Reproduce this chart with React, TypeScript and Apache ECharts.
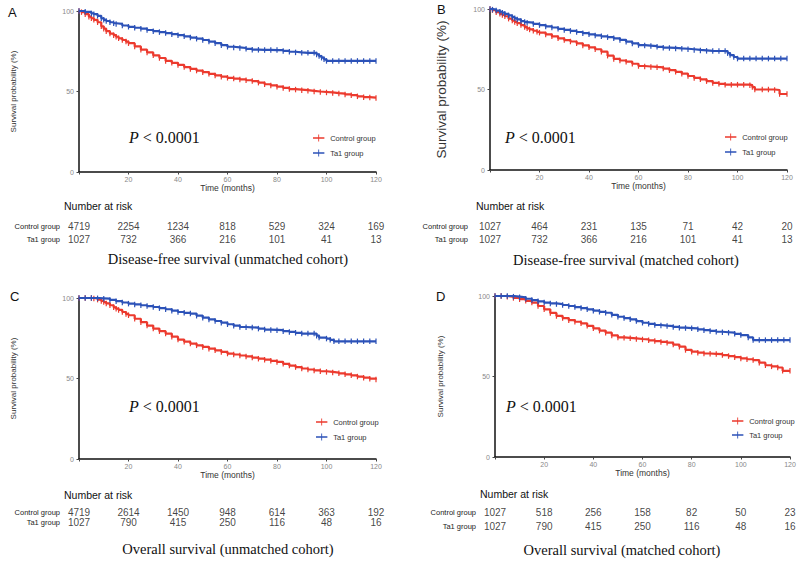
import React, { useEffect, useRef } from 'react';
import * as echarts from 'echarts';

const RED = '#ec3a2e';
const BLUE = '#2c52b8';

// Kaplan-Meier curves: [month, survival %]
const dfsUnmatchedControl = [[0,100],[1,99.3],[2.5,98],[4,96.5],[5,95.5],[6,94.5],[7.5,93],[9,90.5],[10,89],[11,87.5],[12.5,86],[14,85],[15,84],[16,83],[17.5,82],[19,81],[20,80],[22.5,78],[25,76],[27.5,74.3],[30,72.5],[32.5,70.8],[35,69],[37.5,67.8],[40,66.5],[42.5,65.2],[45,64],[47.5,63],[50,62],[52.5,61],[55,60],[57.5,59.2],[60,58.5],[62.5,58],[65,57.5],[67.5,57],[70,56.5],[72.5,55.5],[75,54.5],[77.5,53.8],[80,53],[82.5,52.2],[85,51.5],[87.5,51.2],[90,50.8],[92.5,50.4],[95,50],[97.5,49.7],[100,49.4],[102.5,49],[105,48.7],[107.5,48.2],[110,47.7],[112.5,47],[115,46.5],[117.5,46.2],[120,46]];
const dfsUnmatchedTa1 = [[0,100],[2.5,99.5],[5,98.5],[6,98],[7.5,97],[9,95.5],[10,94.5],[11,93.8],[12.5,93],[14,92.4],[15,92],[17.5,91],[20,90.2],[22.5,89.6],[25,89],[27.5,88.2],[30,87.5],[32.5,86.9],[35,86.3],[37.5,85.6],[40,85],[42.5,84.3],[45,83.5],[47.5,82.8],[50,82],[52.5,81],[55,80],[57.5,78.8],[60,77.8],[62.5,77.4],[65,77],[67.5,76.5],[70,76],[72.5,75.9],[75,75.8],[77.5,75.7],[80,75.7],[82.5,75.2],[85,74.7],[87.5,74.3],[90,74],[92.5,74],[95,74],[96,73],[97,72],[98,71],[99,70],[100,69],[102.5,69],[105,69],[107.5,69],[110,69],[112.5,69],[115,69],[117.5,69],[120,69]];
const dfsMatchedControl = [[0,100],[1,99.3],[2.5,98],[4,97],[5,96.3],[6,95.5],[7.5,94],[9,92.8],[10,92],[11,91.2],[12.5,90],[14,88.8],[15,88],[16,87.3],[17.5,86.5],[19,85.8],[20,85.3],[22.5,84.2],[25,83],[27.5,81.8],[30,80.7],[32.5,79.8],[35,78.7],[37.5,77.4],[40,76.2],[42.5,75],[45,73.5],[47.5,71],[50,69],[52.5,68],[55,67.3],[57.5,66],[60,64.6],[62.5,64.3],[65,64],[67.5,63.8],[70,63],[72.5,62],[75,61],[77.5,59.8],[80,58.4],[82.5,57.2],[85,56.3],[87.5,55.2],[90,54.1],[92.5,53.5],[95,53],[97.5,53],[100,53],[102.5,53],[105,52.7],[106,51.5],[107,50],[110,50],[112.5,50],[115,49.7],[117,47.2],[120,47.2]];
const dfsMatchedTa1 = [[0,100],[1,99.6],[2.5,99],[4,98.3],[5,97.7],[6,97],[7.5,96],[9,94.9],[10,94.2],[11,93.5],[12.5,92.5],[14,91.9],[15,91.5],[17.5,90.7],[20,90],[22.5,89.2],[25,88.5],[27.5,87.7],[30,87],[32.5,86.4],[35,85.7],[37.5,85],[40,84.3],[42.5,83.6],[45,83],[47.5,82.5],[50,81.8],[52.5,80.8],[55,79.7],[57.5,78.6],[60,77.6],[62.5,77.3],[65,77],[67.5,76.5],[70,76],[72.5,75.8],[75,75.5],[77.5,75.3],[80,75],[82.5,74.6],[85,74.3],[87.5,74],[90,73.9],[92.5,73.9],[95,73.9],[96,72.6],[97,71.4],[98.5,70.2],[100,69.2],[102.5,69.2],[105,69.2],[107.5,69.2],[110,69.2],[112.5,69.2],[115,69.2],[117.5,69.2],[120,69.2]];
const osUnmatchedControl = [[0,100],[2.5,100],[5,100],[6,99.7],[7.5,99],[9,98.2],[10,97.5],[11,96.6],[12.5,95.5],[14,94.2],[15,93.4],[16,92.6],[17.5,91.3],[19,90.1],[20,89.3],[22.5,87.1],[25,85],[27.5,82.9],[30,81],[32.5,79.4],[35,77.9],[37.5,76],[40,74.2],[42.5,72.9],[45,71.7],[47.5,70.6],[50,69.6],[52.5,68.5],[55,67.5],[57.5,66.5],[60,65.5],[62.5,64.9],[65,64.3],[67.5,63.7],[70,63],[72.5,62.3],[75,61.7],[77.5,61],[80,60.3],[82.5,59.1],[85,58],[87.5,57.1],[90,56.2],[92.5,55.6],[95,55],[97.5,54.5],[100,54.1],[102.5,53.7],[105,53.2],[107.5,52.6],[110,52],[112.5,51.2],[115,50.5],[117.5,49.9],[120,49.4]];
const osUnmatchedTa1 = [[0,100],[2.5,100],[5,100],[7.5,99.8],[10,99.6],[12.5,98.8],[15,98],[17.5,97.2],[20,96.5],[22.5,96],[25,95.5],[27.5,95],[30,94.4],[32.5,93.7],[35,93],[37.5,92.1],[40,91.3],[42.5,90.8],[45,90.3],[47.5,89],[50,87.8],[52.5,86.7],[55,85.7],[57.5,84.7],[60,83.7],[62.5,82.8],[65,82],[67.5,81.8],[70,81.6],[72.5,81],[75,80.4],[77.5,80.2],[80,80],[82.5,79.4],[85,78.9],[87.5,78.4],[90,77.9],[92.5,77.9],[95,77.9],[96,76.6],[97,75.4],[100,74.8],[101.5,74],[103,73.1],[105,73.1],[107.5,73.1],[110,73.1],[112.5,73.1],[115,73.1],[117.5,73.1],[120,73.1]];
const osMatchedControl = [[0,100],[2.5,100],[5,99.6],[7.5,98.8],[10,98],[12.5,97],[15,95.9],[17.5,93.8],[20,91.7],[22.5,89.5],[25,87.6],[27.5,86.3],[30,85],[32.5,84],[35,83],[37.5,81.5],[40,79.9],[42.5,78.5],[45,77.2],[47.5,75.5],[50,74.3],[52.5,74],[55,73.7],[57.5,73.3],[60,73],[62.5,72.5],[65,72],[67.5,71.5],[70,71],[72.5,69.8],[75,68.5],[77.5,66.5],[80,65.4],[82.5,64.8],[85,64.3],[87.5,64.1],[90,63.9],[92.5,63.3],[95,62.7],[97.5,62],[100,61.2],[102.5,60.7],[105,60.2],[107.5,58.6],[110,57],[112.5,56.3],[115,55.6],[117,53.5],[120,53.5]];
const osMatchedTa1 = [[0,100],[2.5,100],[5,100],[7.5,99.6],[10,99.2],[12.5,98.3],[15,97.5],[17.5,96.7],[20,95.9],[22.5,95.4],[25,95],[27.5,94.4],[30,93.8],[32.5,93.1],[35,92.5],[37.5,91.7],[40,90.9],[42.5,90.2],[45,89.6],[47.5,88.3],[50,87.1],[52.5,86.3],[55,85.5],[57.5,84.4],[60,83.4],[62.5,82.7],[65,82],[67.5,81.6],[70,81.3],[72.5,80.8],[75,80.3],[77.5,80.1],[80,79.9],[82.5,79.3],[85,78.8],[87.5,78.3],[90,77.8],[92.5,77.5],[95,77.2],[97.5,76.5],[100,75.7],[103,74.3],[105,72.6],[107.5,72.6],[110,72.6],[112.5,72.6],[115,72.6],[117.5,72.6],[120,72.6]];

// Number at risk
const riskMonths = [0, 20, 40, 60, 80, 100, 120];
const riskDfsUnmatchedControl = [4719, 2254, 1234, 818, 529, 324, 169];
const riskDfsUnmatchedTa1 = [1027, 732, 366, 216, 101, 41, 13];
const riskDfsMatchedControl = [1027, 464, 231, 135, 71, 42, 20];
const riskDfsMatchedTa1 = [1027, 732, 366, 216, 101, 41, 13];
const riskOsUnmatchedControl = [4719, 2614, 1450, 948, 614, 363, 192];
const riskOsUnmatchedTa1 = [1027, 790, 415, 250, 116, 48, 16];
const riskOsMatchedControl = [1027, 518, 256, 158, 82, 50, 23];
const riskOsMatchedTa1 = [1027, 790, 415, 250, 116, 48, 16];

const xTicks = [0, 20, 40, 60, 80, 100, 120];
const yTicks = [0, 50, 100];
const groupNames = ['Control group', 'Ta1 group'];
const panelLetters = ['A', 'B', 'C', 'D'];
const panelTitles = [
  'Disease-free survival (unmatched cohort)',
  'Disease-free survival (matched cohort)',
  'Overall survival (unmatched cohort)',
  'Overall survival (matched cohort)',
];

const curves = [
  [dfsUnmatchedControl, dfsUnmatchedTa1],
  [dfsMatchedControl, dfsMatchedTa1],
  [osUnmatchedControl, osUnmatchedTa1],
  [osMatchedControl, osMatchedTa1],
];
const risks = [
  [riskDfsUnmatchedControl, riskDfsUnmatchedTa1],
  [riskDfsMatchedControl, riskDfsMatchedTa1],
  [riskOsUnmatchedControl, riskOsUnmatchedTa1],
  [riskOsMatchedControl, riskOsMatchedTa1],
];

// layout
const layout = [
  { grid: { left: 79, top: 11, width: 297, height: 161 }, yName: 8, yGap: 62, risk: { top: 219.5, height: 26 }, riskMargin: 19,
    letter: [8, 12], nar: [64, 206], title: [228, 259], p: [129, 137], legend: [313, 134, 7] },
  { grid: { left: 490, top: 9, width: 297, height: 161 }, yName: 13.5, yGap: 42, risk: { top: 219.5, height: 26 }, riskMargin: 22,
    letter: [437, 9], nar: [476, 206], title: [626, 260], p: [505, 137], legend: [725, 133, 7] },
  { grid: { left: 79, top: 298, width: 297, height: 161 }, yName: 8, yGap: 62, risk: { top: 507, height: 20.5 }, riskMargin: 19,
    letter: [10, 296], nar: [64, 495], title: [228, 549], p: [129, 406], legend: [316, 418, 7] },
  { grid: { left: 495, top: 296, width: 295, height: 161 }, yName: 8, yGap: 51, risk: { top: 505, height: 28 }, riskMargin: 19,
    letter: [436, 296], nar: [480, 494], title: [622, 550], p: [506, 406], legend: [732, 417, 6] },
];

const SANS = 'Liberation Sans, Arial, sans-serif';
const SERIF = 'Liberation Serif, Times New Roman, serif';
const LEGEND_ICON = 'path://M0,3.2H13V4.8H0Z M6,0H7V8H6Z';

function buildOption() {
  const grid: any[] = [];
  const xAxis: any[] = [];
  const yAxis: any[] = [];
  const series: any[] = [];
  const legend: any[] = [];
  const graphic: any[] = [];

  layout.forEach((L, i) => {
    grid.push({ ...L.grid, containLabel: false });
    xAxis.push({
      type: 'value', gridIndex: i, min: xTicks[0], max: xTicks[xTicks.length - 1], interval: 20,
      name: 'Time (months)', nameLocation: 'middle', nameGap: 11,
      nameTextStyle: { fontFamily: SANS, fontSize: 8.5, color: '#333' },
      axisLine: { lineStyle: { color: '#111', width: 1.5 } },
      axisTick: { show: true, length: 2.5, lineStyle: { color: '#444' } },
      axisLabel: { fontFamily: SANS, fontSize: 7, color: '#888', margin: 4, formatter: (v: number) => (v === 0 ? '' : String(v)) },
      splitLine: { show: false },
    });
    yAxis.push({
      type: 'value', gridIndex: i, min: yTicks[0], max: yTicks[yTicks.length - 1], interval: 50,
      name: 'Survival probability (%)', nameLocation: 'middle', nameGap: L.yGap, nameRotate: 90,
      nameTextStyle: { fontFamily: SANS, fontSize: L.yName, color: '#333' },
      axisLine: { show: true, lineStyle: { color: '#111', width: 1.5 } },
      axisTick: { show: true, length: 2.5, lineStyle: { color: '#444' } },
      axisLabel: { fontFamily: SANS, fontSize: 7, color: '#888', margin: 5 },
      splitLine: { show: false },
    });
    curves[i].forEach((data, g) => {
      const c = g === 0 ? RED : BLUE;
      series.push({
        type: 'line', name: groupNames[g], xAxisIndex: i, yAxisIndex: i, data, step: 'end',
        color: c,
        lineStyle: { width: 2.2, color: c },
        showSymbol: true, symbol: 'rect', symbolSize: [1.2, 5.5],
        itemStyle: { color: c },
        z: g === 0 ? 3 : 4,
      });
    });
    legend.push({
      orient: 'vertical', left: L.legend[0], top: L.legend[1], padding: 0,
      itemWidth: 13, itemHeight: 7, itemGap: L.legend[2],
      data: groupNames.map((n) => ({ name: n, icon: LEGEND_ICON })),
      textStyle: { fontFamily: SANS, fontSize: 7.5, color: '#333' },
    });
  });

  // risk tables
  layout.forEach((L, i) => {
    const gi = 4 + i;
    grid.push({ left: L.grid.left, width: L.grid.width, top: L.risk.top, height: L.risk.height });
    xAxis.push({ type: 'value', gridIndex: gi, min: 0, max: 120, show: false });
    yAxis.push({
      type: 'category', gridIndex: gi, data: ['Ta1 group', 'Control group'],
      axisLine: { show: false }, axisTick: { show: false },
      axisLabel: { interval: 0, fontFamily: SANS, fontSize: 7.5, color: '#222', margin: L.riskMargin },
    });
    risks[i].forEach((vals, g) => {
      series.push({
        type: 'scatter', xAxisIndex: gi, yAxisIndex: gi, symbolSize: 1,
        itemStyle: { color: 'transparent' },
        data: riskMonths.map((m, k) => [m, groupNames[g], vals[k]]),
        label: { show: true, position: 'inside', formatter: (p: any) => String(p.value[2]), fontFamily: SANS, fontSize: 10, color: '#111' },
        labelLayout: { hideOverlap: false },
        silent: true,
      });
    });
    graphic.push(
      { type: 'text', x: L.letter[0], y: L.letter[1], style: { text: panelLetters[i], font: `13px ${SANS}`, fill: '#111', verticalAlign: 'middle' } },
      { type: 'text', x: L.nar[0], y: L.nar[1], style: { text: 'Number at risk', font: `10.5px ${SANS}`, fill: '#111', verticalAlign: 'middle' } },
      { type: 'text', x: L.title[0], y: L.title[1], style: { text: panelTitles[i], font: `14.5px ${SERIF}`, fill: '#111', align: 'center', verticalAlign: 'middle' } },
      {
        type: 'text', x: L.p[0], y: L.p[1],
        style: {
          text: '{i|P} < 0.0001', font: `16px ${SERIF}`, fill: '#111', verticalAlign: 'middle',
          rich: { i: { fontStyle: 'italic', fontFamily: SERIF, fontSize: 16, fill: '#111' } },
        },
      },
    );
  });

  return { animation: false, backgroundColor: '#fff', grid, xAxis, yAxis, series, legend, graphic };
}

export default function App() {
  const ref = useRef<HTMLDivElement>(null);
  useEffect(() => {
    if (!ref.current) return;
    const chart = echarts.init(ref.current, undefined, { renderer: 'svg' });
    chart.setOption(buildOption() as any);
    return () => chart.dispose();
  }, []);
  return <div ref={ref} style={{ position: 'fixed', left: 0, top: 0, width: 800, height: 561, background: '#fff' }} />;
}
